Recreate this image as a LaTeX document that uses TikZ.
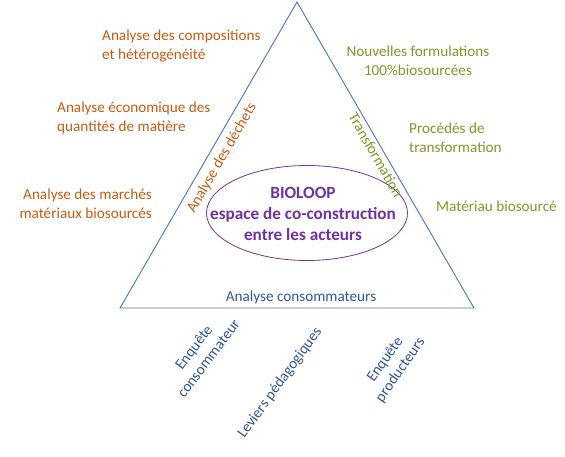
\documentclass[tikz,border=0pt]{standalone}
\usepackage{fontspec}
\setmainfont{Carlito}
\usetikzlibrary{shapes.geometric}
\definecolor{wasteorange}{RGB}{197,90,17}
\definecolor{transgreen}{RGB}{128,150,40}
\definecolor{consblue}{RGB}{47,85,151}
\definecolor{edgeblue}{RGB}{68,114,196}
\definecolor{loopviolet}{RGB}{112,48,160}
\tikzset{
  txt/.style={font=\fontsize{15.2}{18.5}\selectfont, inner sep=0pt},
  waste/.style={txt, text=wasteorange},
  trans/.style={txt, text=transgreen},
  cons/.style={txt, text=consblue},
}
\begin{document}
\begin{tikzpicture}[x=1pt,y=-1pt]
        \useasboundingbox (0,0) rectangle (565,457);
        % Triangle
        \coordinate (top) at (297,2);
        \coordinate (bl) at (120,308);
        \coordinate (br) at (474,308);
        \draw[edgeblue, line width=0.9pt] (top) -- (br) -- (bl) -- cycle;

        % BIOLOOP
        \node[draw=loopviolet, line width=0.8pt, ellipse, minimum width=201pt, minimum height=95pt, inner sep=0pt] (loop) at (307,213) {};
        \node[txt, text=loopviolet, font=\bfseries\fontsize{17.2}{21}\selectfont, align=center] (looptext) at (303,214) {BIOLOOP\\espace de co-construction\\entre les acteurs};

        % Dechets
        \node[waste, rotate=60] (dechets) at (222,158) {Analyse des déchets};
        \node[waste, align=left, anchor=west] (compo) at (102,46) {Analyse des compositions\\et hétérogénéité};
        \node[waste, align=left, anchor=west] (eco) at (57,118) {Analyse économique\ des\\quantités de matière};
        \node[waste, align=right, anchor=east] (marche) at (152,204) {Analyse des marchés\\matériaux biosourcés};

        % Transformation
        \node[trans, rotate=-60] (transfo) at (376,155) {Transformation};
        \node[trans, align=center] (formul) at (418,61) {Nouvelles formulations\\100\%biosourcées};
        \node[trans, align=left, anchor=west] (procedes) at (409,138) {Procédés de\\transformation};
        \node[trans, anchor=west] (materiau) at (436,206) {Matériau biosourcé};

        % Consommateurs
        \node[cons] (conso) at (301,297) {Analyse consommateurs};
        \node[cons, rotate=53, align=center] (enqcons) at (201,353) {Enquête\\consommateur};
        \node[cons, rotate=54] (leviers) at (280,383) {Leviers pédagogiques};
        \node[cons, rotate=55, align=center] (enqprod) at (393,365) {Enquête\\producteurs};
\end{tikzpicture}
\end{document}
